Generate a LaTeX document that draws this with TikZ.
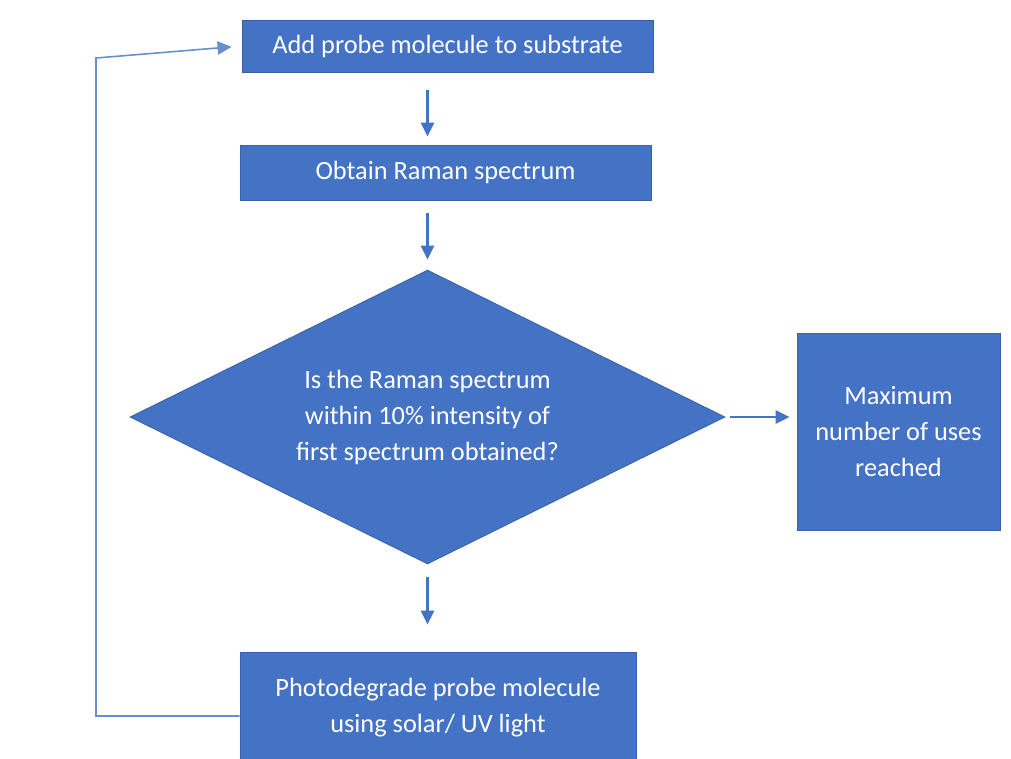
\documentclass[tikz,border=0pt]{standalone}
\usepackage{fontspec}
\setmainfont{Carlito}
\usetikzlibrary{arrows.meta,shapes.geometric}

\definecolor{boxblue}{HTML}{4472C4}
\definecolor{edgeblue}{HTML}{3A62A8}

\begin{document}
\begin{tikzpicture}[x=0.02cm, y=-0.02cm,
  stepbox/.style={draw=edgeblue, fill=boxblue, text=white, line width=0.5pt, align=center,
    font=\fontsize{15}{20.5}\selectfont, inner sep=0pt},
  flow/.style={draw=boxblue, line width=1.4pt, -{Triangle[length=8pt,width=7.5pt]}},
  back/.style={draw=boxblue!80, line width=0.9pt, -{Triangle[length=8pt,width=7.5pt]}}]
\useasboundingbox (0,0) rectangle (1011,758);

\node[stepbox, minimum width=8.22cm, minimum height=1.04cm] (add) at (447.5,46) {Add probe molecule to substrate};
\node[stepbox, minimum width=8.22cm, minimum height=1.1cm] (raman) at (445.5,172.5) {Obtain Raman spectrum};
\node[stepbox, shape=diamond, aspect=2, minimum width=11.9cm, minimum height=5.88cm] (test) at (427.5,417)
  {Is the Raman spectrum\\within 10\% intensity of\\first spectrum obtained?};
\node[stepbox, minimum width=4.06cm, minimum height=3.94cm] (max) at (898.5,431.5) {Maximum\\number of uses\\reached};
\node[stepbox, minimum width=7.92cm, minimum height=2.24cm] (photo) at (438,708) {Photodegrade probe molecule\\using solar/ UV light};

\draw[flow, shorten <=0.36cm, shorten >=0.16cm] (add.south -| test.north) -- (raman.north -| test.north);
\draw[flow, shorten <=0.26cm, shorten >=0.2cm] (raman.south -| test.north) -- (test.north);
\draw[flow, shorten <=0.1cm, shorten >=0.14cm] (test.east) -- (max.west |- test.east);
\draw[flow, shorten <=0.26cm, shorten >=0.54cm] (test.south) -- (photo.north -| test.south);

\coordinate (turn) at (96,716);
\coordinate (loop) at (96,58);
\draw[back, shorten >=0.2cm] (photo.west |- turn) -- (turn) -- (loop) -- (add.west);

\end{tikzpicture}
\end{document}
